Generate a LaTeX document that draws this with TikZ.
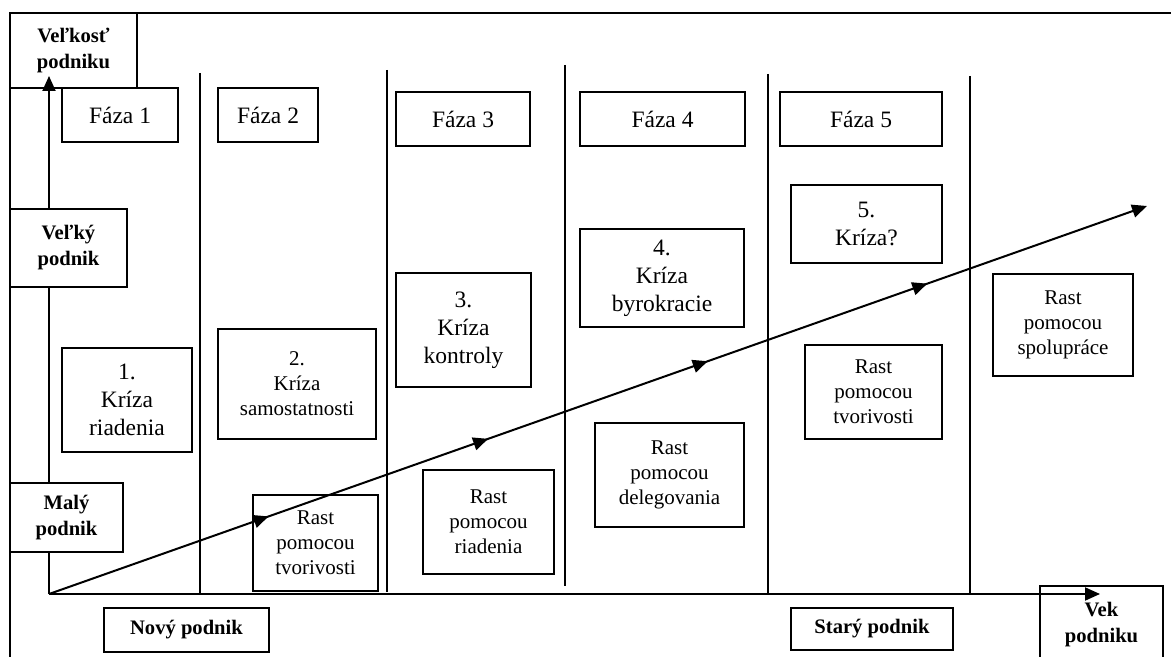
\documentclass[tikz,border=0pt]{standalone}
\usepackage{fontspec}
\setmainfont{Liberation Serif}
\usetikzlibrary{arrows.meta,positioning,decorations.markings}

\begin{document}
\begin{tikzpicture}[x=0.5pt, y=-0.5pt,
    box/.style={rectangle, draw, fill=white, line width=1pt, inner sep=0pt, align=center},
    phase/.style={box, font=\fontsize{11.75}{14}\selectfont},
    crisis/.style={box, font=\fontsize{11.75}{14}\selectfont},
    growth/.style={box, font=\fontsize{10.5}{12.5}\selectfont},
    label/.style={box, font=\bfseries\fontsize{10.3}{13}\selectfont},
    axis/.style={-{Triangle[length=7.5pt,width=6.5pt]}, line width=1pt},
    divider/.style={line width=1pt},
    midtip/.style={postaction={decorate}, decoration={markings,
        mark=at position 0.2 with {\arrow{Triangle[length=7.5pt,width=6.5pt]}},
        mark=at position 0.4 with {\arrow{Triangle[length=7.5pt,width=6.5pt]}},
        mark=at position 0.6 with {\arrow{Triangle[length=7.5pt,width=6.5pt]}},
        mark=at position 0.8 with {\arrow{Triangle[length=7.5pt,width=6.5pt]}}}}]

    \useasboundingbox (0,0) rectangle (1171,657);
    \clip (0,0) rectangle (1171,657);

    % frame
    \draw[line width=1pt] (10,700) -- (10,13) -- (1200,13);

    % axis labels
    \node[label, minimum width=63.5pt, minimum height=37.5pt] (size) at (73.5,50.5) {Veľkosť\\podniku};
    \node[label, minimum width=61.5pt, minimum height=39pt] (age) at (1101.5,625) {Vek\\podniku};

    % phase dividers
    \foreach \x/\t/\b in {200/73/594, 387/70/592, 565/65/586, 768/74/594, 970/76/594}
        \draw[divider] (\x,\t) -- (\x,\b);

    % axes
    \coordinate (origin) at (49,594);
    \coordinate (ytip) at (49,76);
    \coordinate (xtip) at (1100,594);
    \coordinate (gtip) at (1147,206);
    \draw[axis] (origin) -- (ytip);
    \draw[axis] (origin) -- (xtip);

    \node[label, minimum width=58.5pt, minimum height=39pt] (big) at (68.5,248) {Veľký\\podnik};
    \node[label, minimum width=56.5pt, minimum height=34.5pt] (small) at (66.5,517.5) {Malý\\podnik};
    \node[label, minimum width=82.5pt, minimum height=22pt] (new) at (186.5,630) {Nový podnik};
    \node[label, minimum width=81pt, minimum height=21pt] (old) at (872,629) {Starý podnik};

    % phases
    \node[phase, minimum width=58pt, minimum height=27pt] (f1) at (120,115) {Fáza 1};
    \node[phase, minimum width=50pt, minimum height=27pt] (f2) at (268,115) {Fáza 2};
    \node[phase, minimum width=67pt, minimum height=27pt] (f3) at (463,119) {Fáza 3};
    \node[phase, minimum width=82.5pt, minimum height=27pt] (f4) at (662.5,119) {Fáza 4};
    \node[phase, minimum width=81pt, minimum height=27pt] (f5) at (861,119) {Fáza 5};

    % crises
    \node[crisis, minimum width=65pt, minimum height=52pt] (k1) at (127,400) {1.\\Kríza\\riadenia};
    \node[growth, minimum width=79pt, minimum height=55pt] (k2) at (297,384) {2.\\Kríza\\samostatnosti};
    \node[crisis, minimum width=67.5pt, minimum height=57pt] (k3) at (463.5,330) {3.\\Kríza\\kontroly};
    \node[crisis, minimum width=82pt, minimum height=49pt] (k4) at (662,278) {4.\\Kríza\\byrokracie};
    \node[crisis, minimum width=75.5pt, minimum height=39pt] (k5) at (866.5,224) {5.\\Kríza?};

    % growth
    \node[growth, minimum width=62.5pt, minimum height=48pt] (r2) at (315.5,543) {Rast\\pomocou\\tvorivosti};
    \node[growth, minimum width=65.5pt, minimum height=52pt] (r3) at (488.5,522) {Rast\\pomocou\\riadenia};
    \node[growth, minimum width=74.5pt, minimum height=52pt] (r4) at (669.5,475) {Rast\\pomocou\\delegovania};
    \node[growth, minimum width=68.5pt, minimum height=47pt] (r5) at (873.5,392) {Rast\\pomocou\\tvorivosti};
    \node[growth, minimum width=70pt, minimum height=51pt] (r6) at (1063,325) {Rast\\pomocou\\spolupráce};

    \draw[axis, midtip] (origin) -- (gtip);
\end{tikzpicture}
\end{document}
